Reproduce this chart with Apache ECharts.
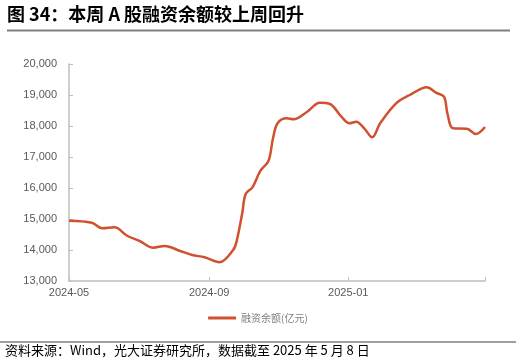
<!DOCTYPE html>
<html><head><meta charset="utf-8">
<script src="https://cdn.jsdelivr.net/npm/echarts@6/dist/echarts.min.js"></script>
<style>html,body{margin:0;padding:0;background:#fff}#c{width:516px;height:363px}</style>
</head><body><div id="c"></div>
<script>
const dates = ['2024-05-01','2024-05-21','2024-05-30','2024-06-10','2024-06-21','2024-07-02','2024-07-14','2024-07-24','2024-08-06','2024-08-17','2024-08-28','2024-09-10','2024-09-22','2024-09-25','2024-09-30','2024-10-03','2024-10-09','2024-10-16','2024-10-23','2024-10-27','2024-10-31','2024-11-08','2024-11-14','2024-11-26','2024-12-07','2024-12-16','2024-12-26','2025-01-02','2025-01-08','2025-01-15','2025-01-22','2025-01-29','2025-02-12','2025-02-24','2025-03-11','2025-03-19','2025-03-26','2025-03-29','2025-04-03','2025-04-15','2025-04-23','2025-05-01'];
const values = [14945,14880,14700,14732,14460,14290,14075,14130,13977,13839,13765,13604,14000,14268,15184,15806,16022,16558,16870,17603,18087,18248,18216,18461,18752,18710,18300,18087,18139,17926,17635,18087,18732,19000,19248,19074,18945,18410,17926,17913,17742,17968];
const yTicks = [13000,14000,15000,16000,17000,18000,19000,20000];
const xTicks = ['2024-05-01','2024-09-01','2025-01-01','2025-05-01'];
const xTickLabels = ['2024-05','2024-09','2025-01'];
const seriesName = '融资余额(亿元)';
const title = '图 34：本周 A 股融资余额较上周回升';
const source = '资料来源：Wind，光大证券研究所，数据截至 2025 年 5 月 8 日';

const chart = echarts.init(document.getElementById('c'), null, {renderer:'canvas'});
const ts = s => Date.UTC(+s.slice(0,4), +s.slice(5,7)-1, +s.slice(8,10));
const labelMap = {};
xTickLabels.forEach((l,i)=>{ labelMap[ts(xTicks[i])] = l; });
chart.setOption({
  animation:false,
  textStyle:{fontFamily:'Liberation Sans, Arial, sans-serif'},
  grid:{left:69,right:31,top:64,bottom:82,containLabel:false},
  legend:{
    data:[seriesName], bottom:35, left:'center',
    itemWidth:28, itemHeight:3, itemGap:4,
    icon:'rect',
    textStyle:{fontFamily:'Noto Sans CJK SC', fontSize:10, color:'#7f7f7f'}
  },
  xAxis:{
    type:'value', min:ts(xTicks[0]), max:ts(xTicks[3]),
    axisLine:{lineStyle:{color:'#bfbfbf',width:1.5}},
    axisTick:{show:true,inside:true,length:4,lineStyle:{color:'#bfbfbf'},customValues:xTicks.map(ts)},
    axisLabel:{customValues:xTickLabels.map((l,i)=>ts(xTicks[i])),formatter:v=>labelMap[v]||'',color:'#595959',fontSize:11,margin:6,fontFamily:'Liberation Sans',showMinLabel:true},
    splitLine:{show:false}
  },
  yAxis:{
    type:'value', min:13000, max:20000, interval:1000,
    axisLine:{show:true,lineStyle:{color:'#bfbfbf',width:1.5}},
    axisTick:{show:true,inside:true,length:4,lineStyle:{color:'#bfbfbf'}},
    axisLabel:{color:'#595959',fontSize:11,margin:12,fontFamily:'Liberation Sans',formatter:v=>v.toLocaleString('en-US')},
    splitLine:{show:false}
  },
  series:[{
    name:seriesName, type:'line', smooth:0.35, showSymbol:false,
    data:dates.map((d,i)=>[ts(d),values[i]]),
    lineStyle:{color:'#d0502f',width:2.5},
    itemStyle:{color:'#d0502f'}
  }],
  graphic:[
    {type:'text',left:7,top:5,style:{text:title,font:'bold 18px "Noto Sans CJK SC"',fill:'#000'}},
    {type:'line',shape:{x1:7,y1:30.5,x2:510,y2:30.5},style:{stroke:'#7f7f7f',lineWidth:2}},
    {type:'line',shape:{x1:0,y1:342,x2:516,y2:342},style:{stroke:'#404040',lineWidth:1}},
    {type:'text',left:5,top:344,style:{text:source,font:'13px "Noto Sans CJK SC"',fill:'#000'}}
  ]
});
</script></body></html>
